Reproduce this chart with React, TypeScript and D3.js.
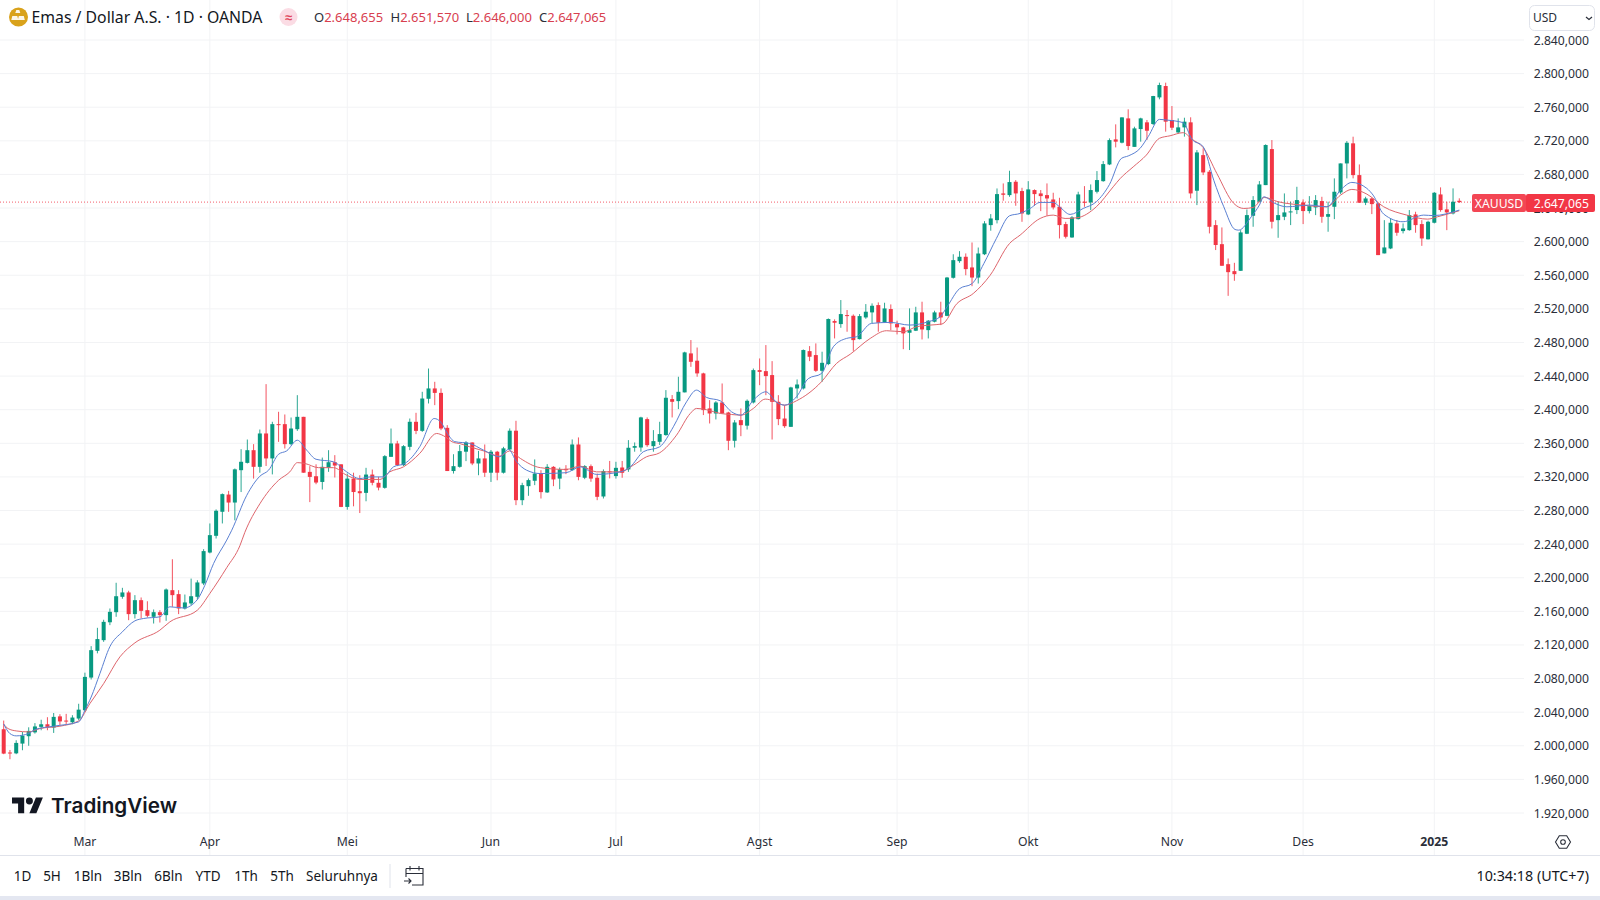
import React from 'react';
import * as d3 from 'd3';

// Daily XAUUSD candles
const opens = [
  2019.7,1992,1991,2002.6,2011.4,2016,2022.5,2025.6,2021.7,2035,
  2030,2028,2032.4,2042.3,2081.2,2113,2125.7,2147,2159,2177.3,
  2182.5,2156.7,2173.3,2161.4,2153.5,2159,2155.5,2185.2,2180.5,2163.4,
  2169.4,2177.3,2193.2,2230,2249.9,2278.5,2299,2289.5,2328,2336.7,
  2351.8,2332,2371.7,2342,2382.8,2382.8,2359,2376.8,2391.5,2326,
  2320.8,2314,2331,2337.5,2335,2284.3,2318,2303,2301,2322.8,
  2313,2307,2343.9,2359.8,2334,2355.8,2385.6,2374.8,2413,2425.3,
  2420,2378.4,2327,2332,2350,2361,2336,2342,2325,2350,
  2325,2352.7,2375,2292.3,2309,2315.4,2324,2301.5,2332,2318,
  2329.6,2328,2358.6,2319,2332.8,2319,2296.7,2326.6,2321,2331.2,
  2328.9,2354.7,2355,2388.8,2356.6,2361.8,2369.8,2412.6,2410.2,2420.6,
  2467,2458.3,2443.2,2401.5,2395.5,2408.6,2396.7,2363,2387.6,2381,
  2408.6,2447.1,2445.9,2441.2,2409.4,2389.5,2379.6,2425.3,2425.3,2469.7,
  2465,2446.3,2454.3,2505.5,2501.9,2512.6,2511.8,2484,2509.8,2515.8,
  2524.5,2503.9,2519.8,2501.9,2498,2491.6,2494,2515.8,2494.7,2504.7,
  2515.8,2511.7,2557,2576.8,2582,2569.3,2557.3,2585,2619.7,2625.6,
  2657.4,2655.4,2671.3,2660.2,2632.4,2661.4,2657.4,2655.4,2650.2,2641.5,
  2620.9,2605,2626.8,2647.5,2646.7,2659.4,2672,2691.9,2721.7,2717.8,
  2746.7,2712.8,2734,2742,2740,2771.7,2785.2,2744.8,2730,2736,
  2742,2660.6,2703,2683.2,2619.7,2597,2573.2,2564.9,2565.3,2609.4,
  2630.8,2647.5,2667.3,2710.2,2625.6,2629.6,2635.6,2637.6,2646.7,2636.4,
  2640.7,2648.3,2629.6,2641.5,2658.6,2693.1,2717,2679.2,2646.3,2651.4,
  2645.5,2586,2591.9,2621.7,2612.6,2613.7,2632.4,2620.9,2602.8,2622.5,
  2656.2,2638.4,2633.6,2648.655,
];
const closes = [
  1990.7,1991,2003.4,2012,2017.7,2023,2025.6,2022.5,2034.4,2029,
  2029.6,2033.6,2043,2082,2113.8,2127,2147.5,2159.4,2178,2182.5,
  2156.7,2173.3,2160.6,2154.7,2159,2155.5,2186,2179.3,2163.4,2170.6,
  2178,2194.4,2231.7,2250.7,2279.7,2299.5,2289.5,2329,2338,2351.8,
  2332,2371.7,2342,2382.8,2382,2359,2377.6,2391.5,2325,2320,
  2313.3,2332,2337.5,2333.5,2284.3,2318,2302,2300.6,2322.8,2313,
  2307.3,2344.7,2359.8,2334,2356.6,2385.6,2374.8,2413.3,2425.3,2420,
  2377.6,2327,2332.8,2350.7,2361,2336,2342,2325,2350,2325,
  2354,2375,2292.3,2310.2,2316.2,2324,2301.9,2332,2317,2329,
  2328,2358.6,2320,2332.8,2318,2296.3,2326.9,2326,2330.8,2324.9,
  2354.7,2356.7,2390.8,2357.8,2362.6,2371,2414.2,2409.4,2421.3,2468.2,
  2457,2443.2,2399.5,2395.5,2408.6,2395.5,2363,2384.8,2381.6,2410.6,
  2447.1,2445,2440,2409.4,2388.8,2380.4,2426.5,2430,2471,2463,
  2446.3,2455.8,2507.9,2503.5,2513.8,2511.4,2482.8,2511.4,2516.6,2523.7,
  2503.5,2520.5,2502.7,2498,2490.8,2494.7,2515.8,2495.5,2505.9,2515.8,
  2509.8,2557.3,2578,2582,2567.3,2557.3,2585.9,2621.7,2627.6,2656.6,
  2655.8,2670.9,2657.4,2633.6,2662.2,2656.6,2654.2,2651.4,2640.7,2619.7,
  2605.8,2628.8,2656.2,2646.3,2661.4,2673.3,2692.3,2720.9,2719,2747.9,
  2713.8,2734.8,2746.7,2732,2773.3,2786.4,2742.8,2735.6,2736,2742.8,
  2657.4,2706.2,2682.4,2617.7,2596,2571.3,2563.7,2561.3,2611,2631.6,
  2649.5,2668.1,2715,2623.7,2631.6,2634.8,2636,2649.5,2636.4,2642.3,
  2649.5,2629.6,2632.8,2659.4,2693.1,2717.7,2679.2,2646.3,2651.4,2644.7,
  2584,2593.1,2622.5,2610.6,2615.7,2631.6,2619.7,2603.8,2623.7,2658.2,
  2637.6,2634.8,2647.5,2647.065,
];
const highs = [
  2030,1995,2006.6,2016.5,2022,2027,2031,2034,2039,2037.6,
  2038,2036.4,2050,2087,2118.6,2140.4,2150,2163.4,2194,2188,
  2184.5,2179.3,2176.5,2172,2162.2,2161.4,2187.2,2222,2185.2,2180,
  2199,2197,2234,2264.6,2281.3,2300.3,2303.4,2330,2353,2364.5,
  2359,2376.4,2430.4,2385.6,2397.5,2394.3,2390.7,2417.3,2391.5,2332.8,
  2335,2343,2351.8,2345.9,2335,2324,2325,2322,2330.8,2328.8,
  2320,2345.9,2377.6,2363,2357.8,2389.5,2396.3,2421.3,2449,2433.2,
  2425.3,2381.6,2347,2358,2362.6,2361,2351,2358.6,2352,2351,
  2355.8,2377.7,2386.8,2313,2318.1,2340.8,2328,2335.2,2332.8,2331.2,
  2334,2364.6,2367,2334,2334.8,2324,2328.9,2339,2338,2339,
  2363.8,2361,2391.6,2390.8,2375.7,2385.6,2423.3,2417.4,2439.2,2469,
  2482.9,2474,2444,2411.4,2410.2,2431.2,2397.5,2387.6,2401.5,2412.2,
  2449,2461,2476.9,2457.8,2417.3,2405.4,2427.3,2436,2471.7,2475.7,
  2478.9,2469,2508.6,2507.5,2530.5,2518.6,2513.4,2513.8,2525.7,2526.5,
  2527.7,2527.3,2525.3,2505.9,2498.7,2520.6,2522.5,2528.5,2506.7,2517.8,
  2528.5,2558,2585,2588.7,2586,2599,2593,2624.4,2632.8,2663.3,
  2669.3,2684.4,2673.3,2664.1,2672,2662.2,2661.4,2669.3,2658.2,2652.2,
  2623.6,2630.4,2659.4,2666.1,2668.1,2684,2695.9,2722.9,2739.6,2748,
  2757.5,2736.8,2747.5,2744.8,2773.5,2789.2,2789.2,2761.4,2746.7,2747.5,
  2748,2709,2711,2685.2,2625.6,2616.9,2580,2574.8,2613.7,2638.3,
  2654.2,2672.1,2715.8,2720.9,2647.5,2657.4,2647.5,2665.3,2650.3,2654.2,
  2655.4,2653.4,2647.5,2675.3,2693.1,2719.7,2724.9,2691.9,2653.4,2652.6,
  2646.3,2625.6,2627.6,2625.6,2621.7,2637.6,2635.6,2625.6,2624.9,2659,
  2664.6,2647.5,2663.4,2651.57,
];
const lows = [
  1990,1984,1990,1994.7,2000,2014.5,2018.5,2018.5,2015.3,2024.5,
  2025.6,2025.6,2030.4,2040.4,2078.9,2110,2123.7,2143.6,2153.5,2175,
  2149.5,2151.5,2151.5,2152.7,2145.5,2146.7,2148.7,2165.4,2156.7,2162.2,
  2167.4,2174,2191.2,2229,2246.7,2264.6,2278.4,2268.4,2302,2336,
  2318,2325,2333,2323,2361.7,2353.8,2357.8,2374.8,2325,2290,
  2311.3,2305,2326,2319.3,2284,2281,2285,2277,2291,2310,
  2304,2306,2343.9,2332.8,2333,2351.8,2370.9,2373.6,2407.4,2405.4,
  2375.6,2327,2324,2331,2338.8,2334,2322,2320,2314,2316,
  2324,2352,2286.4,2286.4,2297.5,2310.2,2294.3,2301,2309,2305.4,
  2323.3,2327.3,2316,2317.3,2314.2,2292.3,2294.3,2318.2,2318,2319,
  2326,2350,2350,2355.8,2350,2358,2369,2390.8,2400.7,2420.6,
  2451,2439.2,2393.6,2383.6,2388.4,2395.5,2351.8,2355,2368.5,2376.4,
  2407.4,2429.2,2417.3,2364.5,2381.6,2378.4,2379.6,2413.4,2424,2457.8,
  2445,2433.2,2453,2484.8,2497.5,2492.8,2470,2483.6,2508.2,2502.7,
  2492.8,2503.5,2494.7,2489.6,2472,2471,2493.6,2483.6,2484.8,2503.9,
  2500.7,2511.3,2556,2574.8,2560,2547,2550.2,2584,2613,2621.7,
  2648.7,2653.4,2642.7,2623.6,2631.6,2642.7,2636.3,2630.8,2638.3,2603.8,
  2603.8,2604.6,2626.4,2641.5,2637.5,2657.4,2671.3,2691.1,2712.2,2717,
  2709,2713,2719,2721,2738.8,2769.4,2730.9,2732.8,2728.9,2725,
  2651.5,2643.5,2679.2,2609.8,2590,2571.3,2535.5,2553.4,2565.3,2609,
  2617.7,2646.7,2667.3,2615.7,2604.6,2625.6,2619.7,2632.8,2620.9,2633.6,
  2631.6,2622.5,2611.8,2626.8,2656.6,2675.3,2675.3,2646.3,2643.5,2632.8,
  2584,2586,2591.1,2607,2609.8,2613,2610.6,2595,2602.6,2621.7,
  2635.6,2613.7,2632.4,2646,
];

// Moving averages as [bar, price] pairs
const blueMa: [number, number][] = [
  [0,2026],[1,2014.5],[2,2011.8],[4,2014.6],[5,2019.3],[8,2023.3],[12,2028.4],[13,2042.3],[14,2058],[15.4,2086],
  [17,2118],[19,2135.6],[21,2148.7],[22.4,2151.5],[25,2153.5],[26.6,2165.4],[28.8,2164],[31,2174],[32.2,2191],[33.6,2217],
  [35.7,2244.8],[36.5,2256.5],[38.9,2298],[41,2320.8],[42.4,2328],[44,2347],[45.3,2351],[47,2363.7],[48.5,2351.8],[50,2341],
  [52.8,2338],[54.9,2326],[57,2318],[58.7,2320],[60.8,2320],[62.4,2332],[64.2,2336],[66.6,2356],[68.9,2389.5],[70,2385],
  [71,2372],[72.2,2362],[74.6,2359.8],[76.8,2351.9],[79.4,2344],[80.8,2352.7],[82.1,2338],[83.7,2328],[85.9,2324],[90,2325],
  [92.3,2332],[94.9,2323],[98.7,2326],[100.3,2332],[102.4,2350],[105,2355.8],[107.2,2379.7],[109.3,2409.4],[110.9,2423.3],[112.5,2414.6],
  [114.7,2410.6],[116.5,2397.5],[118,2393.5],[120,2411.4],[122,2421.3],[123.7,2409],[125,2405.4],[126.9,2415.4],[128.8,2437],[130.9,2443],
  [132.8,2474.9],[134.9,2484.8],[136.5,2486.8],[138.9,2502.7],[141.9,2503.9],[145,2500.7],[148,2504.7],[149.9,2510.6],[151,2522.4],[153,2544],
  [155,2550],[156.9,2574],[158.9,2603.8],[161,2630.8],[162.7,2633.6],[164.3,2639.5],[165.9,2646.7],[168,2646.7],[169,2641.5],[170.7,2632.4],
  [172.8,2639.5],[174.9,2647.5],[177,2668],[178.9,2699],[180,2702],[181.9,2711],[183.2,2725],[185,2745.5],[186.2,2744.7],[188.8,2741.6],
  [190.2,2722],[192,2713],[193.7,2673],[195.3,2641.5],[197.1,2614.5],[197.7,2613.7],[199.7,2629.6],[201,2643.5],[201.7,2653.4],[203.5,2645.5],
  [205.4,2641.5],[209,2643.5],[211.8,2641.5],[214,2661.4],[215.8,2670.5],[218.2,2663.4],[219.2,2655.4],[220.9,2632.8],[224,2623.7],[227.3,2631.6],
  [228.8,2631],[233,2637.6],
];
const redMa: [number, number][] = [
  [0,2025.7],[0.7,2020.5],[2,2017.7],[4,2016.5],[5.8,2020.5],[9,2023.3],[12,2029.6],[13.8,2050.3],[16,2074],[18.6,2105.8],
  [21,2122.5],[25,2137.6],[26.6,2147.5],[31,2161.4],[33,2181.3],[35.7,2212],[37.8,2238],[38.6,2254],[41,2288],[44,2316],
  [45.8,2326],[47,2337],[48.2,2336],[50.4,2331],[52.8,2331],[54.9,2322],[57,2317],[60.2,2317],[61.8,2326],[64,2332],
  [66.6,2348],[69.3,2371.7],[70.4,2369],[72,2361],[73,2359.7],[74.6,2355.8],[76.8,2351],[79.4,2344.7],[81,2351],[82.7,2342],
  [85.9,2331],[90,2328.9],[92.3,2332.8],[94.9,2326],[98.7,2326],[100.8,2334],[102.9,2344],[105,2348.7],[107.7,2369.7],[109.9,2395.5],
  [110.9,2401.5],[112.5,2400],[114.7,2395.5],[116.5,2394.3],[118,2393.5],[120,2401.5],[121.9,2412.6],[123.2,2410.6],[125,2405.4],[126.9,2410.6],
  [130.9,2433.2],[133.3,2455],[135.5,2466],[138.7,2484.8],[141.3,2494],[144,2492.8],[146.1,2498.7],[148.3,2500.7],[150.2,2502],[152.6,2526.4],
  [155.2,2538.3],[157.9,2560],[161,2597.8],[162.7,2607.8],[165.9,2627.6],[168,2631.6],[169.9,2627.6],[171.8,2628.4],[174.9,2641.5],[177.6,2665.3],
  [178.7,2675],[180.8,2689],[182.9,2703],[185,2723],[186.7,2726],[188.8,2729.7],[190.2,2722],[192,2712],[194.2,2681],[196.9,2645.5],
  [198.5,2639.5],[200,2640.7],[201.8,2652.6],[204,2647.5],[207.9,2643.5],[211.8,2641.5],[214,2655.4],[215.8,2662.2],[218.2,2656.6],[220.9,2641.5],
  [224.6,2631.6],[227.9,2626.8],[229.5,2629.6],[233,2636.8],
];

const priceTicks = d3.range(1920, 2841, 40);
const monthBars = [13, 33, 55, 78, 98, 121, 143, 164, 187, 208, 229];
const monthLabels = ['Mar', 'Apr', 'Mei', 'Jun', 'Jul', 'Agst', 'Sep', 'Okt', 'Nov', 'Des', '2025'];
const rangeButtons = ['1D', '5H', '1Bln', '3Bln', '6Bln', 'YTD', '1Th', '5Th', 'Seluruhnya'];
const rangeCenters = [22.5, 52, 88, 128, 168.5, 208, 246, 282, 342];
const ohlcLabels = ['O', 'H', 'L', 'C'];
const ohlcValues = ['2.648,655', '2.651,570', '2.646,000', '2.647,065'];
const ohlcStarts = [314, 390.5, 466, 539];
const lastPrice = 2647.065;

const UP = '#089981';
const DOWN = '#f23645';
const GRID = '#f2f3f5';
const FONT = '"Noto Sans", sans-serif';
const TEXT = '#2a2e39';

// "2,840.000" -> "2.840,000"
const fmtPrice = (v: number) =>
  d3.format(',.3f')(v).replace(/[.,]/g, (c) => (c === ',' ? '.' : ','));

const App = () => {
  const x = d3.scaleLinear().domain([0, 233]).range([3.7, 1459.3]);
  const y = d3.scaleLinear().domain([1920, 2840]).range([813, 40]);
  const maLine = d3
    .line<[number, number]>()
    .x((d) => x(d[0]))
    .y((d) => y(d[1]))
    .curve(d3.curveMonotoneX);

  return (
    <svg
      width={1600}
      height={900}
      style={{ position: 'fixed', left: 0, top: 0, background: '#fff' }}
      fontFamily={FONT}
    >
      {/* grid */}
      {priceTicks.map((t) => (
        <line key={t} x1={0} x2={1524} y1={y(t)} y2={y(t)} stroke={GRID} />
      ))}
      {monthBars.map((b) => (
        <line key={b} x1={x(b)} x2={x(b)} y1={0} y2={855} stroke={GRID} />
      ))}

      {/* last price line */}
      <line
        x1={0}
        x2={1472}
        y1={y(lastPrice)}
        y2={y(lastPrice)}
        stroke={DOWN}
        strokeDasharray="1 2"
        opacity={0.8}
      />

      {/* candles */}
      {opens.map((o, i) => {
        const c = closes[i];
        const color = c >= o ? UP : DOWN;
        const top = y(Math.max(o, c));
        const h = Math.max(y(Math.min(o, c)) - top, 1);
        return (
          <g key={i}>
            <line x1={x(i)} x2={x(i)} y1={y(highs[i])} y2={y(lows[i])} stroke={color} strokeWidth={1} opacity={0.85} />
            <rect x={x(i) - 2} y={top} width={4} height={h} fill={color} />
          </g>
        );
      })}

      {/* moving averages */}
      <path d={maLine(redMa) || ''} fill="none" stroke="#de656c" strokeWidth={1} />
      <path d={maLine(blueMa) || ''} fill="none" stroke="#5a80d2" strokeWidth={1} />

      {/* price axis */}
      {priceTicks.map((t) => (
        <text key={t} x={1589} y={y(t) + 4.5} textAnchor="end" fontSize={12.2} fill={TEXT}>
          {fmtPrice(t)}
        </text>
      ))}
      <rect x={1472} y={194} width={54} height={18} rx={2} fill={DOWN} opacity={0.92} />
      <text x={1499} y={207.5} textAnchor="middle" fontSize={12.2} fill="#fff">XAUUSD</text>
      <rect x={1526} y={194} width={69} height={18} rx={2} fill={DOWN} />
      <text x={1589} y={207.5} textAnchor="end" fontSize={12.2} fill="#fff">{fmtPrice(lastPrice)}</text>

      {/* currency box */}
      <rect x={1529.5} y={5.5} width={65} height={25} rx={5} fill="#fff" stroke="#e0e3eb" />
      <text x={1533} y={22} fontSize={12} fill={TEXT}>USD</text>
      <path d="M1586 17l3 2.5 3-2.5" fill="none" stroke={TEXT} strokeWidth={1.2} />

      {/* header */}
      <circle cx={18.5} cy={17} r={9.5} fill="#d9a21b" />
      <path d="M16.5 10.5h3l1 3h-5zM12.5 16.5h5l1 4h-7zM19 16.5h5l1 4h-7z" fill="#fff" opacity={0.9} transform="translate(-0.2,-0.6)" />
      <text x={31.5} y={22.5} fontSize={15.8} fill="#131722">Emas / Dollar A.S. · 1D · OANDA</text>
      <circle cx={288.5} cy={17} r={9} fill="#fbdce4" />
      <text x={288.5} y={21.5} textAnchor="middle" fontSize={13} fontWeight={700} fill="#e0455b">≈</text>
      {ohlcLabels.map((l, i) => (
        <text key={l} x={ohlcStarts[i]} y={21.5} fontSize={13} fill={TEXT}>
          {l}
          <tspan fill="#d8404f">{ohlcValues[i]}</tspan>
        </text>
      ))}

      {/* logo */}
      <g transform="translate(12,794) scale(0.87)" fill="#131722">
        <path d="M14 22H7V11H0V4h14v18zM28 22h-8l7.5-18h8L28 22z" />
        <circle cx={20} cy={8} r={4} />
      </g>
      <text x={51} y={812.5} fontFamily="Inter, sans-serif" fontWeight={600} fontSize={20.7} fill="#131722">
        TradingView
      </text>

      {/* time axis */}
      {monthBars.map((b, i) => (
        <text
          key={b}
          x={x(b)}
          y={846}
          textAnchor="middle"
          fontSize={12.2}
          fontWeight={monthLabels[i] === '2025' ? 700 : 400}
          fill={TEXT}
        >
          {monthLabels[i]}
        </text>
      ))}
      <g transform="translate(1563,842)" fill="none" stroke={TEXT} strokeWidth={1.1}>
        <path d="M-7.5 0L-3.7-6.2H3.7L7.5 0L3.7 6.2H-3.7z" />
        <circle r={2.3} />
      </g>
      <line x1={0} x2={1600} y1={855.5} y2={855.5} stroke="#e0e3eb" />

      {/* bottom toolbar */}
      {rangeButtons.map((b, i) => (
        <text key={b} x={rangeCenters[i]} y={881} textAnchor="middle" fontSize={13.5} fill="#131722">
          {b}
        </text>
      ))}
      <line x1={390} x2={390} y1={864} y2={888} stroke="#e0e3eb" />
      <g transform="translate(403,866)" fill="none" stroke={TEXT} strokeWidth={1.1}>
        <path d="M3 2.5H20V19H9M3 11V2.5M3 7.5H20M7 0V4.5M16 0V4.5" />
        <path d="M1 15H8M5.5 12.5L8 15L5.5 17.5" />
      </g>
      <text x={1589} y={881} textAnchor="end" fontSize={14.3} fill="#131722">10:34:18 (UTC+7)</text>
      <rect x={0} y={896} width={1600} height={4} fill="#e4e7f1" />
    </svg>
  );
};

export default App;
